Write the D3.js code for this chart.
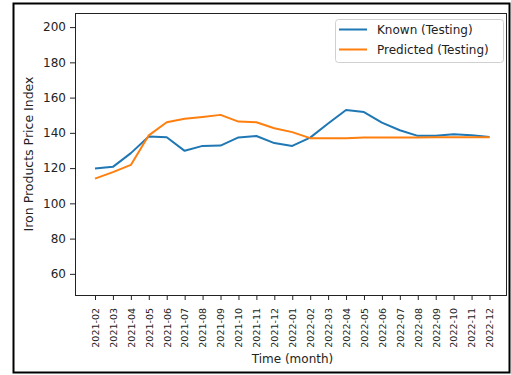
<!DOCTYPE html>
<html>
<head>
<meta charset="utf-8">
<script src="https://cdn.jsdelivr.net/npm/d3@7"></script>
<style>
  html, body { margin: 0; padding: 0; background: #fff; }
  svg { display: block; font-family: "DejaVu Sans", sans-serif; }
</style>
</head>
<body>
<svg id="chart" width="511" height="375"></svg>
<script>
// Monthly test-period categories
const months = ["2021-02","2021-03","2021-04","2021-05","2021-06","2021-07","2021-08","2021-09",
  "2021-10","2021-11","2021-12","2022-01","2022-02","2022-03","2022-04","2022-05","2022-06",
  "2022-07","2022-08","2022-09","2022-10","2022-11","2022-12"];

// Observed iron products price index
const knownValues = [119.8, 120.7, 128.5, 137.9, 137.5, 129.8, 132.6, 132.8, 137.4, 138.2, 134.2,
  132.6, 137.3, 145.3, 153.0, 151.8, 145.8, 141.5, 138.3, 138.4, 139.2, 138.6, 137.6];

// Model prediction for the same months
const predictedValues = [114.0, 117.7, 121.8, 138.6, 146.0, 148.0, 149.0, 150.2, 146.4, 146.0, 142.6,
  140.4, 137.0, 136.9, 136.9, 137.3, 137.4, 137.4, 137.4, 137.5, 137.5, 137.5, 137.5];

const yTicks = [60, 80, 100, 120, 140, 160, 180, 200];

const seriesNames = ["Known (Testing)", "Predicted (Testing)"];
const seriesColors = ["#1f77b4", "#ff7f0e"];

const svg = d3.select("#chart");

// Outer figure frame
svg.append("rect")
  .attr("x", 13.5).attr("y", 3.5).attr("width", 496).attr("height", 369)
  .attr("fill", "#fff").attr("stroke", "#000").attr("stroke-width", 2);

const ax = { left: 75, right: 506, top: 13, bottom: 295 };

const x = d3.scalePoint().domain(months).range([95, 489.5]);
const y = d3.scaleLinear().domain([48, 208]).range([ax.bottom, ax.top]);

// Y axis
const yAxis = svg.append("g")
  .attr("transform", `translate(${ax.left},0)`)
  .call(d3.axisLeft(y).tickValues(yTicks).tickSize(5).tickPadding(4).tickFormat(d3.format("d")));
yAxis.select(".domain").remove();
yAxis.selectAll(".tick line").attr("stroke", "#222");
yAxis.selectAll(".tick text").attr("font-size", 12).attr("fill", "#222")
  .attr("font-family", "DejaVu Sans, sans-serif");

// X axis with rotated month labels
const xAxis = svg.append("g")
  .attr("transform", `translate(0,${ax.bottom})`)
  .call(d3.axisBottom(x).tickSize(5).tickPadding(4));
xAxis.select(".domain").remove();
xAxis.selectAll(".tick line").attr("stroke", "#222");
xAxis.selectAll(".tick text")
  .attr("font-size", 9.5).attr("fill", "#222")
  .attr("font-family", "DejaVu Sans, sans-serif")
  .attr("transform", "rotate(-90)")
  .attr("text-anchor", "end")
  .attr("x", -13).attr("y", 0).attr("dy", "0.35em");

// Plot lines
const line = d3.line().x((d, i) => x(months[i])).y(d => y(d));
[knownValues, predictedValues].forEach((vals, k) => {
  svg.append("path")
    .datum(vals)
    .attr("fill", "none")
    .attr("stroke", seriesColors[k])
    .attr("stroke-width", 2)
    .attr("stroke-linejoin", "round")
    .attr("d", line);
});

// Axes frame
svg.append("rect")
  .attr("x", ax.left + 0.5).attr("y", ax.top + 0.5)
  .attr("width", ax.right - ax.left).attr("height", ax.bottom - ax.top)
  .attr("fill", "none").attr("stroke", "#222").attr("stroke-width", 1);

// Axis titles
svg.append("text")
  .attr("x", (ax.left + ax.right) / 2 + 2).attr("y", 363)
  .attr("text-anchor", "middle").attr("font-size", 12).attr("fill", "#222")
  .text("Time (month)");

svg.append("text")
  .attr("transform", `translate(33,${(ax.top + ax.bottom) / 2}) rotate(-90)`)
  .attr("text-anchor", "middle").attr("font-size", 12.5).attr("fill", "#222")
  .text("Iron Products Price Index");

// Legend
const lg = svg.append("g");
lg.append("rect")
  .attr("x", 335.5).attr("y", 19.5).attr("width", 168).attr("height", 43).attr("rx", 3)
  .attr("fill", "#fff").attr("fill-opacity", 0.8).attr("stroke", "#d0d0d0");
seriesNames.forEach((name, k) => {
  const cy = 29.5 + k * 20;
  lg.append("line")
    .attr("x1", 339).attr("x2", 367).attr("y1", cy).attr("y2", cy)
    .attr("stroke", seriesColors[k]).attr("stroke-width", 2);
  lg.append("text")
    .attr("x", 377).attr("y", cy).attr("dy", "0.36em")
    .attr("font-size", 12).attr("fill", "#222")
    .text(name);
});
</script>
</body>
</html>
